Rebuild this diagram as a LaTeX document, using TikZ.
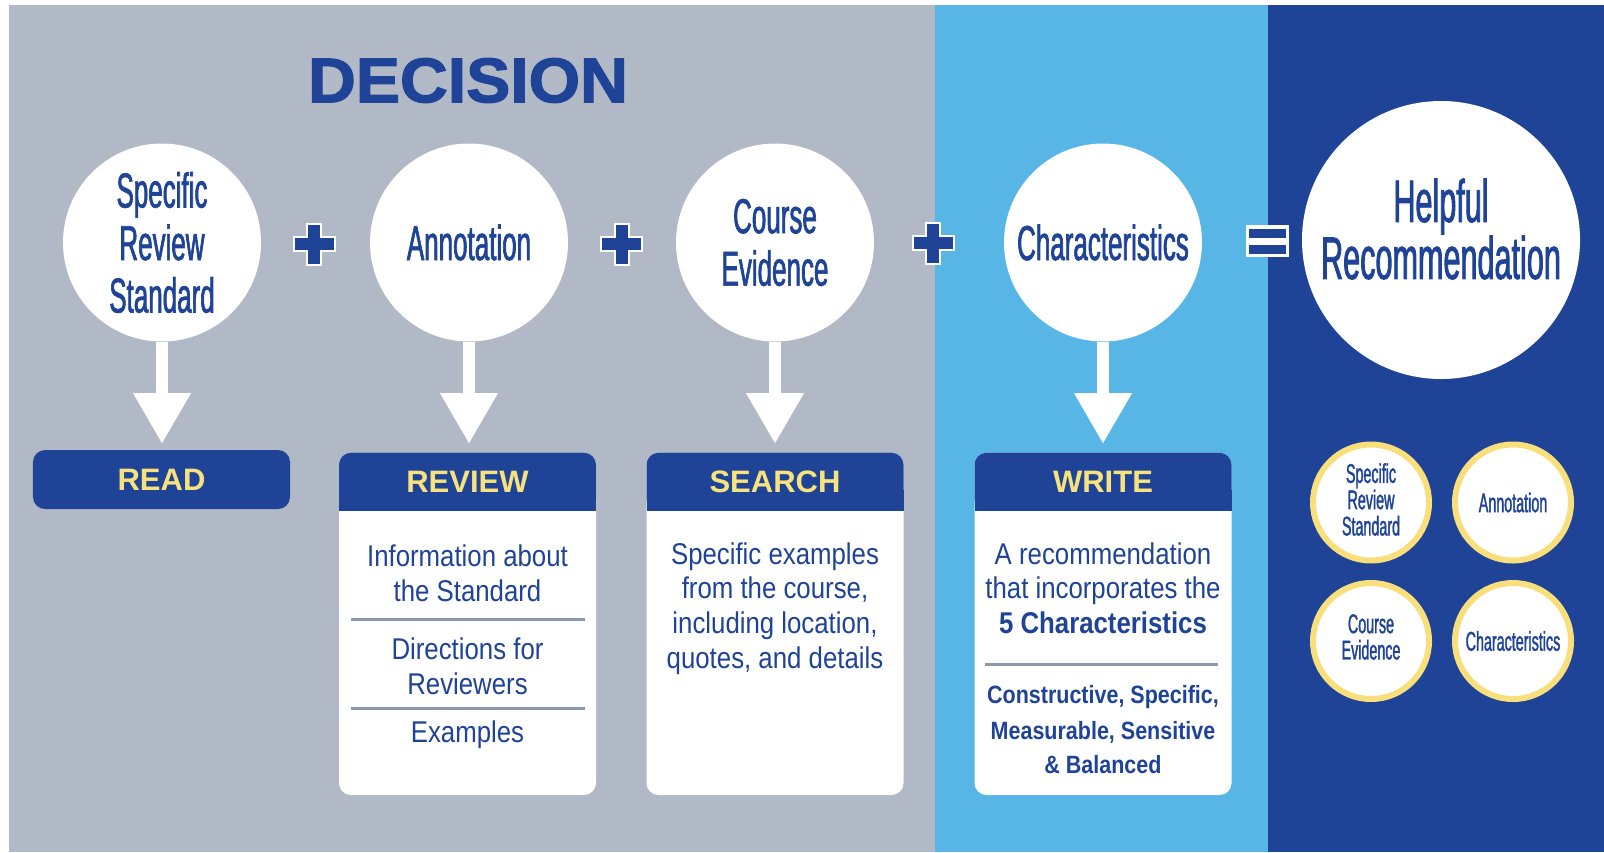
\documentclass[tikz,border=0pt]{standalone}
\usepackage{fontspec}
\setmainfont{Liberation Sans}
\newfontfamily\circfont[FakeStretch=0.53,FakeBold=1.3]{Liberation Sans}
\newfontfamily\hugefont[FakeStretch=0.51,FakeBold=1.3]{Liberation Sans}
\newfontfamily\bodyfont[FakeStretch=0.86]{Liberation Sans}
\newfontfamily\decfont[FakeStretch=1.05,FakeBold=2]{Liberation Sans}
\usetikzlibrary{arrows.meta}
\definecolor{panelgray}{HTML}{B1B9C7}
\definecolor{lightblue}{HTML}{58B6E6}
\definecolor{dblue}{HTML}{1E4397}
\definecolor{hyellow}{HTML}{F7E27E}
\definecolor{ringyellow}{HTML}{F9DF7B}
\definecolor{divgray}{HTML}{8C9AAD}
\tikzset{
  bigcirc/.style={circle,fill=white,minimum size=198bp,inner sep=0pt,outer sep=0pt,align=center,text=dblue,
    font=\circfont\fontsize{49bp}{52.5bp}\selectfont},
  hugecirc/.style={circle,fill=white,minimum size=278bp,inner sep=0pt,outer sep=0pt},
  hugetext/.style={inner sep=0pt,align=center,text=dblue,font=\hugefont\fontsize{60bp}{54bp}\selectfont},
  smallcirc/.style={circle,fill=white,draw=ringyellow,line width=6bp,minimum size=116bp,inner sep=0pt,outer sep=0pt,
    align=center,text=dblue,font=\circfont\fontsize{27bp}{26.3bp}\selectfont},
  smalltext/.style={inner sep=0pt,align=center,text=dblue,font=\circfont\fontsize{27bp}{26.3bp}\selectfont},
  hdr/.style={rectangle,rounded corners=12bp,fill=dblue,minimum width=257bp,minimum height=58bp,inner sep=0pt,
    outer sep=0pt,text=hyellow,font=\bfseries\fontsize{31bp}{31bp}\selectfont},
  hdrtext/.style={text=hyellow,inner sep=0pt,font=\bfseries\fontsize{31bp}{31bp}\selectfont},
  bodybox/.style={rectangle,rounded corners=12bp,fill=white,minimum width=257bp,minimum height=342.3bp,inner sep=0pt,outer sep=0pt},
  ln/.style={anchor=base,inner sep=0pt,text=dblue,font=\bodyfont\fontsize{30bp}{35bp}\selectfont},
  lnbold/.style={anchor=base,inner sep=0pt,text=dblue,font=\bodyfont\bfseries\fontsize{30bp}{35bp}\selectfont},
  lnsmall/.style={anchor=base,inner sep=0pt,text=dblue,font=\bodyfont\bfseries\fontsize{25bp}{35bp}\selectfont},
  divline/.style={draw=divgray,line width=3bp},
  downarrow/.style={draw=white,line width=12bp,-{Triangle[width=58bp,length=50bp,line width=0.1bp]}},
  plussign/.pic={
    \fill[white] (-21.5,-8) rectangle (21.5,8);
    \fill[white] (-8,-21.5) rectangle (8,21.5);
    \fill[dblue] (-19.5,-6) rectangle (19.5,6);
    \fill[dblue] (-6,-19.5) rectangle (6,19.5);
  },
  equalsign/.pic={
    \fill[white] (-21.5,-16) rectangle (21.5,16);
    \fill[dblue] (-18.5,-12.5) rectangle (18.5,-3.5);
    \fill[dblue] (-18.5,3.5) rectangle (18.5,12.5);
  }
}
\begin{document}
\begin{tikzpicture}[x=1bp,y=-1bp]
% panels
\fill[white] (0,0) rectangle (1604,852);
\fill[panelgray] (9,5) rectangle (934.6,852);
\fill[lightblue] (934.6,5) rectangle (1268,852);
\fill[dblue] (1268,5) rectangle (1604,852);
\useasboundingbox (0,0) rectangle (1604,852);

% title
\node[text=dblue,inner sep=0pt,font=\decfont\bfseries\fontsize{63bp}{63bp}\selectfont] (title) at (468,80.5) {DECISION};

% circles
\node[bigcirc] (c1) at (162,242.5) {Specific\\Review\\Standard};
\node[bigcirc] (c2) at (469,242.5) {Annotation};
\node[bigcirc] (c3) at (775,242.5) {Course\\Evidence};
\node[bigcirc] (c4) at (1103,242.5) {Characteristics};
\node[hugecirc] (c5) at (1441,240) {};
\node[hugetext] (c5t) at ([yshift=11bp]c5.center) {Helpful\\Recommendation};

% operators
\pic (plusa) at (314,244) {plussign};
\pic (plusb) at (621.5,244) {plussign};
\pic (plusc) at (933,243) {plussign};
\pic (eq) at (1267,241) {equalsign};

% boxes
\node[hdr,minimum height=59bp] (read) at (161.5,479.5) {READ};

\node[bodybox] (review) at (467.5,623.85) {};
\node[hdr] (reviewh) at (467.5,481.7) {};
\fill[dblue] (339,490) rectangle (596,510.7);
\node[hdrtext] (reviewt) at (reviewh) {REVIEW};

\node[bodybox] (search) at (775,623.85) {};
\node[hdr] (searchh) at (775,481.7) {};
\fill[dblue] (646.5,490) rectangle (903.5,510.7);
\node[hdrtext] (searcht) at (searchh) {SEARCH};

\node[bodybox] (write) at (1103,623.85) {};
\node[hdr] (writeh) at (1103,481.7) {};
\fill[dblue] (974.5,490) rectangle (1231.5,510.7);
\node[hdrtext] (writet) at (writeh) {WRITE};

% arrows
\draw[downarrow,shorten >=7bp] (c1.south) -- (c1.south |- read.north);
\draw[downarrow,shorten >=9.7bp] (c2.south) -- (c2.south |- review.north);
\draw[downarrow,shorten >=9.7bp] (c3.south) -- (c3.south |- search.north);
\draw[downarrow,shorten >=9.7bp] (c4.south) -- (c4.south |- write.north);

% review body
\node[ln] (rv1) at (467.5,566.7) {Information about};
\node[ln] (rv2) at (467.5,601.7) {the Standard};
\draw[divline] (350.6,619) -- (584.8,619);
\node[ln] (rv3) at (467.5,659) {Directions for};
\node[ln] (rv4) at (467.5,694) {Reviewers};
\draw[divline] (350.6,708.3) -- (584.8,708.3);
\node[ln] (rv5) at (467.5,742.7) {Examples};

% search body
\node[ln] (sr1) at (775,564) {Specific examples};
\node[ln] (sr2) at (775,598.5) {from the course,};
\node[ln] (sr3) at (775,633.5) {including location,};
\node[ln] (sr4) at (775,668.3) {quotes, and details};

% write body
\node[ln] (wr1) at (1103,564) {A recommendation};
\node[ln] (wr2) at (1103,598.3) {that incorporates the};
\node[lnbold] (wr3) at (1103,633.3) {5 Characteristics};
\draw[divline] (985,664.3) -- (1218,664.3);
\node[lnsmall] (wr4) at (1103,703.3) {Constructive, Specific,};
\node[lnsmall] (wr5) at (1103,739.3) {Measurable, Sensitive};
\node[lnsmall] (wr6) at (1103,773.3) {\& Balanced};

% small circles
\node[smallcirc] (s1) at (1371,502.5) {};
\node[smalltext] (s1t) at ([yshift=3bp]s1.center) {Specific\\Review\\Standard};
\node[smallcirc] (s2) at (1513,502.5) {Annotation};
\node[smallcirc] (s3) at (1371,641) {};
\node[smalltext] (s3t) at ([yshift=4bp]s3.center) {Course\\Evidence};
\node[smallcirc] (s4) at (1513,641) {Characteristics};
\end{tikzpicture}
\end{document}
